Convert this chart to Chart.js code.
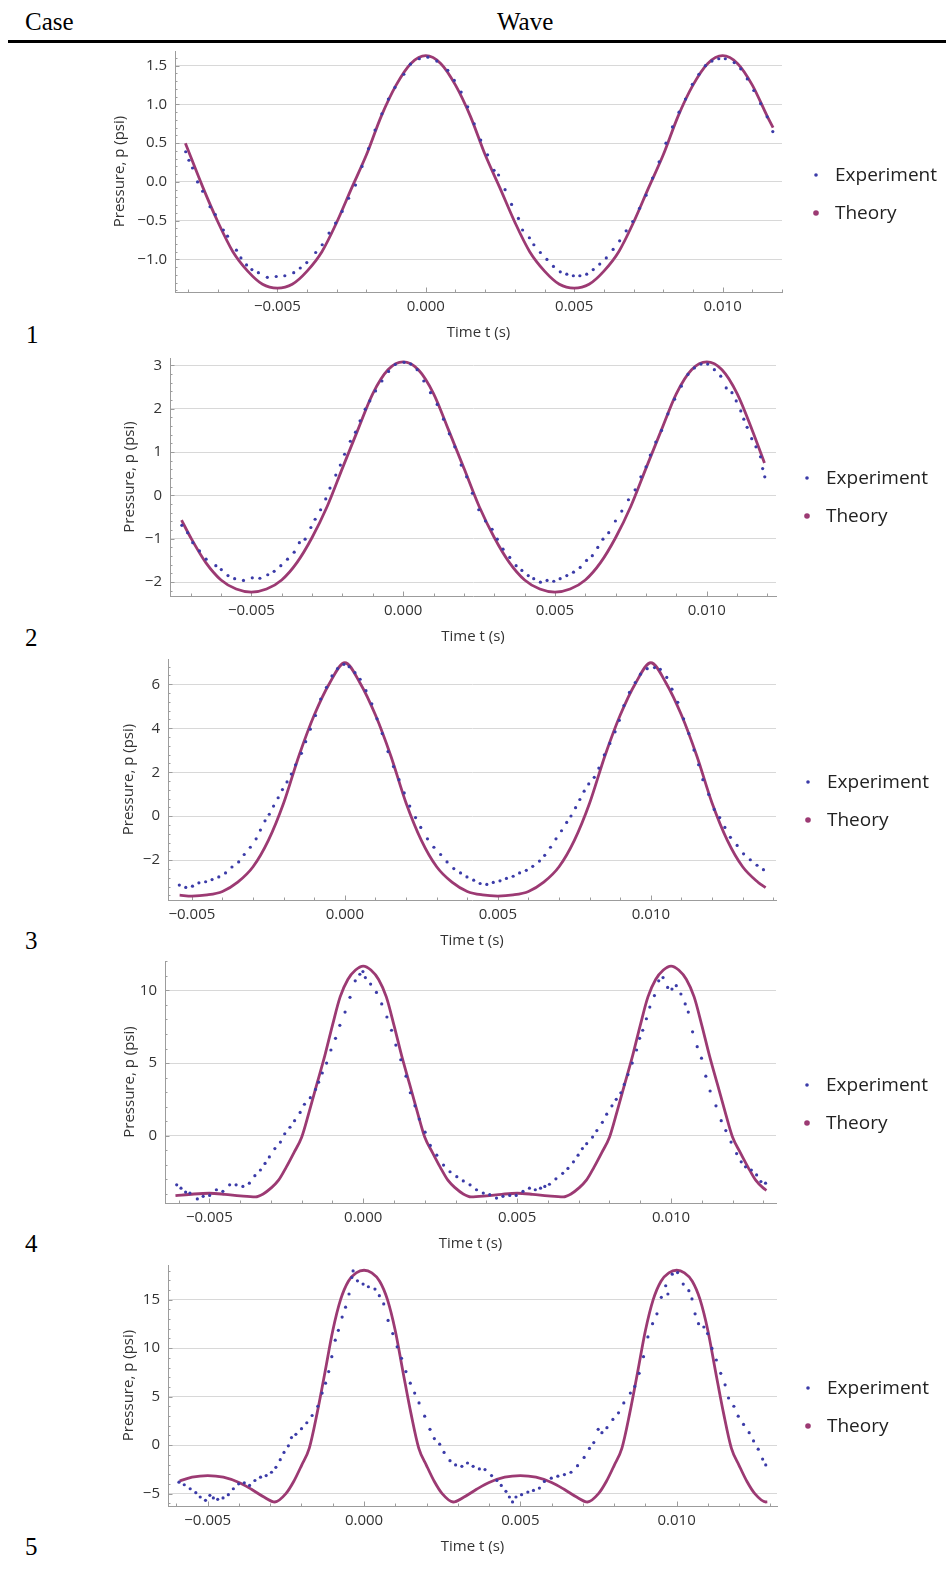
<!DOCTYPE html>
<html>
<head>
<meta charset="utf-8">
<script src="https://cdn.jsdelivr.net/npm/chart.js@4.4.1/dist/chart.umd.min.js"></script>
<style>
  body { margin: 0; background: #fff; width: 948px; height: 1569px; position: relative; overflow: hidden; }
  .serif { position: absolute; font-family: "Liberation Serif", "Times New Roman", serif; font-size: 25px; line-height: 1; color: #000; }
  .rule { position: absolute; left: 8px; top: 40px; width: 938px; height: 2.5px; background: #000; }
  canvas { position: absolute; }
</style>
</head>
<body>
<div class="serif" style="left:25px;top:9px">Case</div>
<div class="serif" style="left:497px;top:9px">Wave</div>
<div class="rule"></div>
<div class="serif" style="left:26px;top:322px">1</div>
<div class="serif" style="left:25px;top:625px">2</div>
<div class="serif" style="left:25px;top:928px">3</div>
<div class="serif" style="left:25px;top:1231px">4</div>
<div class="serif" style="left:25px;top:1534px">5</div>

<script>
// ---- case 1 ----
var exp1T = [-0.00809,-0.00798,-0.00786,-0.00769,-0.00752,-0.00727,-0.00709,-0.00682,-0.00668,-0.00638,-0.00623,-0.00604,-0.00586,-0.00564,-0.00534,-0.00504,-0.00475,-0.00445,-0.00423,-0.00401,-0.00371,-0.00349,-0.00326,-0.00304,-0.00282,-0.0026,-0.00237,-0.00215,-0.00193,-0.00171,-0.00148,-0.00126,-0.00104,-0.00074,-0.00052,-0.00022,0.00007,0.00037,0.00074,0.00096,0.00119,0.00141,0.00163,0.00185,0.00208,0.0023,0.00245,0.00267,0.00289,0.00312,0.00326,0.00349,0.00364,0.00386,0.00408,0.0043,0.00453,0.00475,0.00497,0.00519,0.00542,0.00564,0.00586,0.00608,0.00631,0.00653,0.00675,0.00697,0.0072,0.00742,0.00764,0.00786,0.00809,0.00831,0.00853,0.00875,0.00898,0.0092,0.00942,0.00964,0.00987,0.01009,0.01039,0.01061,0.01083,0.01105,0.01128,0.0115,0.01169];
var exp1P = [0.39,0.28,0.18,0.0,-0.12,-0.32,-0.42,-0.62,-0.70,-0.88,-0.98,-1.07,-1.13,-1.17,-1.23,-1.22,-1.21,-1.17,-1.11,-1.04,-0.91,-0.81,-0.66,-0.53,-0.38,-0.21,-0.04,0.20,0.43,0.67,0.88,1.07,1.22,1.39,1.52,1.59,1.61,1.56,1.44,1.31,1.16,0.97,0.75,0.54,0.35,0.15,0.09,-0.10,-0.29,-0.47,-0.62,-0.72,-0.81,-0.91,-1.00,-1.09,-1.16,-1.19,-1.21,-1.21,-1.19,-1.13,-1.06,-0.98,-0.87,-0.76,-0.63,-0.51,-0.34,-0.17,0.05,0.26,0.50,0.71,0.90,1.07,1.26,1.39,1.50,1.56,1.59,1.59,1.54,1.46,1.33,1.18,1.01,0.84,0.65];
var theo1T = [-0.0081,-0.0075,-0.007,-0.0065,-0.006,-0.0055,-0.005,-0.0045,-0.004,-0.0035,-0.003,-0.0025,-0.002,-0.0015,-0.001,-0.0005,0,0.0005,0.001,0.0015,0.002,0.0025,0.003,0.0035,0.004,0.0045,0.005,0.0055,0.006,0.0065,0.007,0.0075,0.008,0.0085,0.009,0.0095,0.01,0.0105,0.011,0.0115,0.0117];
var theo1P = [0.50,-0.08,-0.52,-0.90,-1.15,-1.32,-1.37,-1.32,-1.15,-0.90,-0.52,-0.08,0.35,0.85,1.25,1.53,1.63,1.53,1.25,0.85,0.35,-0.08,-0.52,-0.90,-1.15,-1.32,-1.37,-1.32,-1.15,-0.90,-0.52,-0.08,0.35,0.85,1.25,1.53,1.63,1.53,1.25,0.85,0.70];

// ---- case 2 ----
var exp2T = [-0.00729,-0.0071,-0.00693,-0.00671,-0.00649,-0.00617,-0.00599,-0.00577,-0.00555,-0.00526,-0.00497,-0.00472,-0.00446,-0.00425,-0.00403,-0.00381,-0.00359,-0.00342,-0.00323,-0.00304,-0.0029,-0.00272,-0.00255,-0.00241,-0.00222,-0.00207,-0.00193,-0.00174,-0.00157,-0.00142,-0.00125,-0.0011,-0.00091,-0.0007,-0.00048,-0.00026,0.00003,0.00025,0.00046,0.00068,0.0009,0.00112,0.00133,0.00152,0.0017,0.00191,0.00209,0.00228,0.00249,0.00271,0.00293,0.0031,0.00329,0.00351,0.00372,0.00391,0.00412,0.0043,0.00452,0.00474,0.00496,0.00517,0.00539,0.00561,0.00583,0.00604,0.00623,0.00641,0.00658,0.00677,0.00699,0.0072,0.00742,0.00764,0.00783,0.008,0.00814,0.00832,0.00851,0.00872,0.00894,0.00916,0.00938,0.00959,0.00981,0.01003,0.01025,0.01046,0.01064,0.01083,0.01097,0.01112,0.01122,0.01133,0.01148,0.01162,0.01177,0.01184,0.01191];
var exp2P = [-0.69,-0.86,-1.09,-1.28,-1.47,-1.62,-1.71,-1.85,-1.92,-1.96,-1.90,-1.91,-1.83,-1.75,-1.62,-1.47,-1.31,-1.09,-1.01,-0.74,-0.55,-0.33,-0.08,0.17,0.47,0.70,0.95,1.25,1.46,1.72,1.99,2.18,2.41,2.64,2.86,3.02,3.07,3.03,2.90,2.64,2.37,2.10,1.76,1.42,1.12,0.70,0.43,0.05,-0.33,-0.59,-0.78,-1.01,-1.24,-1.43,-1.62,-1.73,-1.85,-1.92,-2.00,-1.96,-1.98,-1.92,-1.85,-1.77,-1.66,-1.50,-1.39,-1.20,-1.01,-0.86,-0.59,-0.36,-0.10,0.13,0.43,0.66,0.93,1.23,1.50,1.88,2.22,2.52,2.79,2.94,3.03,3.03,2.90,2.75,2.48,2.37,2.18,1.95,1.76,1.57,1.31,1.12,0.89,0.62,0.43];
var theo2T = [-0.0073,-0.007,-0.0065,-0.006,-0.0055,-0.005,-0.0045,-0.004,-0.0035,-0.003,-0.0025,-0.002,-0.0015,-0.001,-0.0005,0,0.0005,0.001,0.0015,0.002,0.0025,0.003,0.0035,0.004,0.0045,0.005,0.0055,0.006,0.0065,0.007,0.0075,0.008,0.0085,0.009,0.0095,0.01,0.0105,0.011,0.0115,0.0119];
var theo2P = [-0.57,-0.97,-1.55,-1.95,-2.16,-2.23,-2.16,-1.95,-1.55,-0.97,-0.25,0.63,1.50,2.35,2.90,3.08,2.90,2.35,1.50,0.63,-0.25,-0.97,-1.55,-1.95,-2.16,-2.23,-2.16,-1.95,-1.55,-0.97,-0.25,0.63,1.50,2.35,2.90,3.08,2.90,2.35,1.50,0.75];

// ---- case 3 ----
var exp3T = [-0.00541,-0.0052,-0.00498,-0.00477,-0.00455,-0.00434,-0.00412,-0.0039,-0.00369,-0.00347,-0.00329,-0.00309,-0.0029,-0.00276,-0.00261,-0.00247,-0.00233,-0.00218,-0.00204,-0.00189,-0.00175,-0.00161,-0.00142,-0.00128,-0.00113,-0.00096,-0.00079,-0.0006,-0.00042,-0.00024,-0.00003,0.00014,0.00033,0.0005,0.00069,0.00088,0.00105,0.00122,0.00141,0.00159,0.00177,0.00194,0.00212,0.00231,0.00248,0.0027,0.00291,0.00313,0.00334,0.00356,0.00378,0.00399,0.00421,0.00442,0.00464,0.00485,0.00507,0.00528,0.0055,0.00571,0.00593,0.00614,0.00636,0.00653,0.00672,0.0069,0.00708,0.00725,0.00739,0.00754,0.00768,0.00782,0.00797,0.00815,0.0083,0.00848,0.00866,0.00883,0.00897,0.00912,0.0093,0.00949,0.00966,0.00988,0.01012,0.01031,0.01052,0.01069,0.01088,0.01107,0.01124,0.01141,0.01156,0.0117,0.01189,0.01207,0.01225,0.01242,0.0126,0.01282,0.01303,0.01325,0.01347,0.01368];
var exp3P = [-3.13,-3.24,-3.18,-3.03,-2.98,-2.88,-2.76,-2.58,-2.31,-2.08,-1.74,-1.41,-1.03,-0.63,-0.21,0.09,0.46,0.84,1.21,1.56,1.92,2.34,2.86,3.39,3.96,4.58,5.33,5.86,6.38,6.71,6.91,6.80,6.53,6.23,5.71,5.11,4.43,3.76,2.94,2.26,1.66,1.06,0.46,-0.06,-0.51,-1.03,-1.41,-1.74,-2.08,-2.38,-2.58,-2.76,-2.91,-3.06,-3.10,-3.01,-2.94,-2.83,-2.73,-2.58,-2.46,-2.28,-2.04,-1.78,-1.41,-1.03,-0.66,-0.28,0.01,0.39,0.76,1.14,1.47,1.77,2.19,2.79,3.31,3.84,4.36,5.03,5.63,6.08,6.46,6.71,6.76,6.68,6.31,5.78,5.18,4.43,3.76,3.01,2.34,1.66,0.99,0.31,-0.06,-0.51,-0.96,-1.33,-1.71,-1.98,-2.23,-2.43];
var theo3T = [-0.0054,-0.005,-0.0045,-0.004,-0.0035,-0.003,-0.0025,-0.002,-0.0015,-0.001,-0.0005,0,0.0005,0.001,0.0015,0.002,0.0025,0.003,0.0035,0.004,0.0045,0.005,0.0055,0.006,0.0065,0.007,0.0075,0.008,0.0085,0.009,0.0095,0.01,0.0105,0.011,0.0115,0.012,0.0125,0.013,0.0135,0.01375];
var theo3P = [-3.59,-3.63,-3.58,-3.42,-3.00,-2.30,-1.10,0.60,2.75,4.60,6.05,6.98,6.05,4.60,2.75,0.60,-1.10,-2.30,-3.00,-3.42,-3.58,-3.63,-3.58,-3.42,-3.00,-2.30,-1.10,0.60,2.75,4.60,6.05,6.98,6.05,4.60,2.75,0.60,-1.10,-2.30,-3.00,-3.25];

// ---- case 4 ----
var exp4T = [-0.00606,-0.00592,-0.00577,-0.00563,-0.00539,-0.0052,-0.00499,-0.00477,-0.00456,-0.00434,-0.00413,-0.00391,-0.0037,-0.00352,-0.00334,-0.00319,-0.00305,-0.00287,-0.00269,-0.00255,-0.00238,-0.00223,-0.00205,-0.00191,-0.00172,-0.00155,-0.00145,-0.00133,-0.00119,-0.00105,-0.0009,-0.00076,-0.00059,-0.00043,-0.00026,-0.00011,-0.00001,0.00007,0.00024,0.00043,0.0006,0.00077,0.00092,0.00106,0.00122,0.00139,0.00153,0.00168,0.00182,0.00201,0.00218,0.00239,0.00261,0.00282,0.00304,0.00325,0.00347,0.00368,0.0039,0.00411,0.00433,0.00454,0.00476,0.00497,0.00519,0.0054,0.00559,0.00576,0.0059,0.00605,0.00626,0.00648,0.00665,0.00683,0.00698,0.00712,0.00726,0.00745,0.00759,0.00777,0.00791,0.00808,0.00822,0.00837,0.00848,0.0086,0.00874,0.00888,0.00898,0.00908,0.0092,0.00931,0.00946,0.0096,0.00974,0.00989,0.01003,0.01017,0.01032,0.01046,0.01056,0.0107,0.01085,0.01099,0.01113,0.01127,0.01146,0.01163,0.01178,0.01195,0.01213,0.01228,0.01242,0.01261,0.01278,0.01292,0.01307];
var exp4P = [-3.37,-3.60,-3.87,-3.94,-4.34,-4.16,-4.10,-3.71,-3.82,-3.37,-3.37,-3.48,-3.26,-2.74,-2.35,-1.90,-1.45,-0.88,-0.43,0.14,0.59,1.04,1.61,2.17,2.62,3.19,3.69,4.32,5.00,5.90,6.70,7.60,8.51,9.52,10.66,11.11,11.29,10.88,10.43,9.86,9.07,8.17,7.26,6.24,5.23,4.10,2.96,2.06,1.15,0.25,-0.66,-1.33,-2.01,-2.47,-2.81,-3.10,-3.37,-3.71,-3.94,-4.05,-4.28,-4.16,-4.10,-4.10,-3.82,-3.60,-3.71,-3.60,-3.48,-3.33,-2.96,-2.58,-2.24,-1.79,-1.33,-0.88,-0.54,-0.09,0.36,0.93,1.49,2.06,2.51,2.96,3.53,4.21,5.00,5.90,6.70,7.26,8.05,8.85,9.64,10.66,10.88,10.20,10.09,10.32,9.75,9.07,8.51,7.15,6.13,5.34,4.10,3.08,2.06,1.04,0.36,-0.43,-1.22,-1.79,-2.13,-2.35,-2.69,-3.14,-3.26];
var theo4T = [-0.0061,-0.0055,-0.005,-0.0045,-0.004,-0.0035,-0.00325,-0.003,-0.00275,-0.0025,-0.00225,-0.002,-0.00175,-0.0015,-0.00125,-0.001,-0.00075,-0.0005,-0.00025,0,0.00025,0.0005,0.00075,0.001,0.00125,0.0015,0.00175,0.002,0.00225,0.0025,0.00275,0.003,0.00325,0.0035,0.004,0.0045,0.005,0.0055,0.006,0.0065,0.00675,0.007,0.00725,0.0075,0.00775,0.008,0.00825,0.0085,0.00875,0.009,0.00925,0.0095,0.00975,0.01,0.01025,0.0105,0.01075,0.011,0.01125,0.0115,0.01175,0.012,0.01225,0.0125,0.01275,0.013,0.0131];
var theo4P = [-4.12,-4.00,-3.95,-4.02,-4.13,-4.20,-4.00,-3.60,-3.05,-2.15,-1.15,-0.10,1.70,3.60,5.50,7.60,9.55,10.75,11.40,11.67,11.40,10.75,9.55,7.60,5.50,3.60,1.70,-0.10,-1.15,-2.15,-3.05,-3.60,-4.00,-4.20,-4.13,-4.02,-3.95,-4.02,-4.13,-4.20,-4.00,-3.60,-3.05,-2.15,-1.15,-0.10,1.70,3.60,5.50,7.60,9.55,10.75,11.40,11.67,11.40,10.75,9.55,7.60,5.50,3.60,1.70,-0.10,-1.15,-2.15,-3.05,-3.60,-3.75];

// ---- case 5 ----
var exp5T = [-0.00592,-0.00575,-0.00556,-0.00538,-0.00524,-0.00507,-0.00493,-0.00482,-0.00468,-0.00451,-0.00434,-0.00418,-0.00401,-0.00383,-0.00366,-0.00349,-0.00331,-0.00313,-0.00296,-0.00282,-0.00268,-0.00256,-0.00242,-0.00232,-0.00218,-0.002,-0.00183,-0.00166,-0.00148,-0.00134,-0.00123,-0.00113,-0.00103,-0.00092,-0.00082,-0.0007,-0.00059,-0.00048,-0.00039,-0.00035,-0.00021,-0.00003,0.00014,0.00035,0.00049,0.00063,0.00077,0.00092,0.00106,0.0012,0.00134,0.00148,0.00162,0.00176,0.00194,0.00211,0.00225,0.00242,0.00256,0.00275,0.00293,0.00313,0.00331,0.00349,0.00369,0.00387,0.00408,0.00425,0.00439,0.00454,0.00465,0.00475,0.00486,0.00504,0.00524,0.00542,0.00561,0.00577,0.00599,0.0062,0.00641,0.00662,0.00683,0.00704,0.00721,0.00735,0.00749,0.00761,0.00777,0.00796,0.00814,0.00831,0.00852,0.00866,0.0088,0.00894,0.00908,0.00923,0.00937,0.00951,0.00965,0.00972,0.00986,0.01003,0.01021,0.01039,0.01049,0.01059,0.0107,0.01087,0.01099,0.01113,0.01127,0.01141,0.01155,0.01166,0.01183,0.01197,0.01214,0.01232,0.01246,0.01261,0.01275,0.01285];
var exp5P = [-3.81,-4.08,-4.49,-4.90,-5.34,-5.68,-5.17,-5.44,-5.58,-5.44,-5.10,-4.49,-3.98,-3.88,-4.15,-3.64,-3.30,-3.13,-2.79,-2.28,-1.50,-0.75,-0.07,0.78,1.12,1.70,2.31,3.06,4.01,5.37,6.39,7.59,9.12,10.82,11.84,13.20,14.22,15.58,17.28,17.96,16.94,16.60,16.33,16.09,15.41,14.56,12.86,11.50,10.14,8.95,7.59,6.39,5.37,4.35,2.99,1.63,0.68,0.10,-0.75,-1.60,-2.04,-2.18,-1.84,-2.18,-2.45,-2.52,-3.13,-3.64,-4.15,-4.76,-5.34,-5.85,-5.34,-5.10,-4.83,-4.66,-4.42,-3.74,-3.40,-3.20,-3.03,-2.79,-2.11,-1.26,-0.34,0.27,1.63,1.29,1.80,2.65,3.33,4.35,5.37,6.05,7.41,9.12,11.16,12.52,13.54,15.24,16.43,15.58,17.62,17.79,16.60,15.92,15.07,13.54,12.52,12.18,11.50,9.97,8.78,7.41,6.22,4.86,4.01,2.99,2.14,1.29,0.44,-0.41,-1.43,-2.04];
var theo5T = [-0.0059,-0.0055,-0.005,-0.0045,-0.004,-0.0036,-0.0032,-0.00285,-0.0025,-0.00225,-0.002,-0.00175,-0.0015,-0.00125,-0.001,-0.00075,-0.0005,-0.00025,0,0.00025,0.0005,0.00075,0.001,0.00125,0.0015,0.00175,0.002,0.00225,0.0025,0.00285,0.0032,0.0036,0.004,0.0045,0.005,0.0055,0.006,0.0064,0.0068,0.00715,0.0075,0.00775,0.008,0.00825,0.0085,0.00875,0.009,0.00925,0.0095,0.00975,0.01,0.01025,0.0105,0.01075,0.011,0.01125,0.0115,0.01175,0.012,0.01225,0.0125,0.01285,0.0129];
var theo5P = [-3.70,-3.30,-3.13,-3.30,-3.85,-4.55,-5.35,-5.86,-5.00,-3.75,-2.10,-0.30,3.30,7.50,11.80,15.00,16.90,17.75,18.03,17.75,16.90,15.00,11.80,7.50,3.30,-0.30,-2.10,-3.75,-5.00,-5.86,-5.35,-4.55,-3.85,-3.30,-3.13,-3.30,-3.85,-4.55,-5.35,-5.86,-5.00,-3.75,-2.10,-0.30,3.30,7.50,11.80,15.00,16.90,17.75,18.03,17.75,16.90,15.00,11.80,7.50,3.30,-0.30,-2.10,-3.75,-5.00,-5.86,-5.85];

// axis ranges and ticks for each case
var xRanges = [[-0.00845, 0.0120], [-0.00768, 0.01228], [-0.00578, 0.01409], [-0.00644, 0.01341], [-0.00627, 0.01321]];
var yRanges = [[-1.42, 1.69], [-2.32, 3.17], [-3.81, 7.15], [-4.62, 12.02], [-6.27, 18.57]];
var ySteps = [0.5, 1, 2, 5, 5];
var yDecimals = [1, 0, 0, 0, 0];
var series = [
  [exp1T, exp1P, theo1T, theo1P],
  [exp2T, exp2P, theo2T, theo2P],
  [exp3T, exp3P, theo3T, theo3P],
  [exp4T, exp4P, theo4T, theo4P],
  [exp5T, exp5P, theo5T, theo5P]
];

// where each panel sits on the page (plot box, y title centre, legend)
var panels = [
  {l: 175, r: 782, t: 48, b: 292, titleX: 120, legX: 816, legY: [175, 213]},
  {l: 170, r: 776, t: 355, b: 596, titleX: 130, legX: 807, legY: [478, 516]},
  {l: 168, r: 776, t: 656, b: 900, titleX: 129, legX: 808, legY: [782, 820]},
  {l: 165, r: 776, t: 958, b: 1203, titleX: 130, legX: 807, legY: [1085, 1123]},
  {l: 168, r: 777, t: 1262, b: 1506, titleX: 129, legX: 808, legY: [1388, 1426]}
];

var EXP_COLOR = '#3b3ba8';
var THEO_COLOR = '#9c3a73';
var AXIS_COLOR = '#9c9c9c';
var TEXT_COLOR = '#333';
var FONT = '"Open Sans", Lato, sans-serif';

function fmt(v, d) {
  if (Math.abs(v) < 1e-9) v = 0;
  return v.toFixed(d).replace('-', '\u2212');
}

function pts(T, P) {
  return T.map(function (t, i) { return {x: t, y: P[i]}; });
}

// legend drawn to the right of the plot
var sideLegend = {
  id: 'sideLegend',
  afterDraw: function (chart, args, o) {
    var ctx = chart.ctx;
    ctx.save();
    ctx.font = '19px ' + FONT;
    ctx.textBaseline = 'middle';
    chart.data.datasets.forEach(function (ds, i) {
      ctx.fillStyle = ds.legendColor;
      ctx.beginPath();
      ctx.arc(o.x, o.y[i], ds.legendRadius, 0, 2 * Math.PI);
      ctx.fill();
      ctx.fillStyle = '#222';
      ctx.fillText(ds.label, o.x + 19, o.y[i] + 1);
    });
    ctx.restore();
  }
};

// small inward tick marks on the frame, major and minor
var frameTicks = {
  id: 'frameTicks',
  beforeDatasetsDraw: function (chart, args, o) {
    var ctx = chart.ctx, a = chart.chartArea;
    ctx.save();
    ctx.strokeStyle = AXIS_COLOR;
    ctx.lineWidth = 1;
    [[chart.scales.x, o.xStep], [chart.scales.y, o.yStep]].forEach(function (pair) {
      var s = pair[0], m = pair[1] / 5;
      for (var k = Math.ceil(s.min / m); k * m <= s.max; k++) {
        var len = (k % 5 === 0) ? 4.5 : 2.5;
        var p = Math.round(s.getPixelForValue(k * m)) + 0.5;
        ctx.beginPath();
        if (s.isHorizontal()) { ctx.moveTo(p, a.bottom); ctx.lineTo(p, a.bottom - len); }
        else { ctx.moveTo(a.left, p); ctx.lineTo(a.left + len, p); }
        ctx.stroke();
      }
    });
    ctx.restore();
  }
};

function build() {
  Chart.defaults.font.family = FONT;
  panels.forEach(function (pn, i) {
    var left = pn.titleX - 13;
    var top = pn.t - 14;
    var w = 948 - left;
    var h = pn.b + 54 - top;
    var cv = document.createElement('canvas');
    cv.width = w; cv.height = h;
    cv.style.left = left + 'px';
    cv.style.top = top + 'px';
    document.body.appendChild(cv);
    var s = series[i];

    new Chart(cv.getContext('2d'), {
      type: 'scatter',
      data: {
        datasets: [
          {
            label: 'Experiment',
            data: pts(s[0], s[1]),
            pointRadius: 1.6,
            pointBorderWidth: 0,
            pointBackgroundColor: EXP_COLOR,
            legendColor: EXP_COLOR,
            legendRadius: 1.8
          },
          {
            label: 'Theory',
            data: pts(s[2], s[3]),
            showLine: true,
            borderColor: THEO_COLOR,
            borderWidth: 2.8,
            pointRadius: 0,
            cubicInterpolationMode: 'monotone',
            fill: false,
            legendColor: THEO_COLOR,
            legendRadius: 2.8
          }
        ]
      },
      options: {
        responsive: false,
        animation: false,
        devicePixelRatio: 1,
        layout: {padding: {left: 0, top: 14, right: 948 - pn.r, bottom: 0}},
        plugins: {
          legend: {display: false},
          tooltip: {enabled: false},
          sideLegend: {x: pn.legX - left, y: pn.legY.map(function (v) { return v - top; })},
          frameTicks: {xStep: 0.005, yStep: ySteps[i]}
        },
        scales: {
          x: {
            type: 'linear',
            min: xRanges[i][0],
            max: xRanges[i][1],
            afterFit: function (sc) { sc.height = 54; },
            ticks: {
              stepSize: 0.005, includeBounds: false, padding: 6, maxRotation: 0, autoSkip: false,
              color: TEXT_COLOR, font: {size: 15},
              callback: function (v) { return fmt(v, 3); }
            },
            grid: {drawTicks: false, color: 'rgba(0,0,0,0)'},
            border: {color: AXIS_COLOR},
            title: {display: true, text: 'Time t (s)', color: TEXT_COLOR, font: {size: 15}, padding: {top: 4, bottom: 4}}
          },
          y: {
            min: yRanges[i][0],
            max: yRanges[i][1],
            afterFit: function (sc) { sc.width = pn.l - left; },
            ticks: {
              stepSize: ySteps[i], includeBounds: false, padding: 8,
              color: TEXT_COLOR, font: {size: 15},
              callback: function (v) { return fmt(v, yDecimals[i]); }
            },
            grid: {drawTicks: false, color: '#d8d8d8'},
            border: {color: AXIS_COLOR},
            title: {display: true, text: 'Pressure, p (psi)', color: TEXT_COLOR, font: {size: 15}, padding: {top: 4, bottom: 4}}
          }
        }
      },
      plugins: [sideLegend, frameTicks]
    });
  });
}

if (document.fonts && document.fonts.load) {
  Promise.all([document.fonts.load('19px "Open Sans"'), document.fonts.load('25px "Liberation Serif"')]).then(build, build);
} else {
  build();
}
</script>
</body>
</html>
